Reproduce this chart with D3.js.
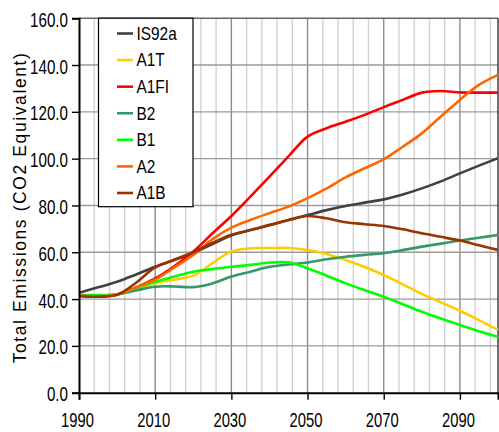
<!DOCTYPE html>
<html>
<head>
<meta charset="utf-8">
<script src="https://cdn.jsdelivr.net/npm/d3@7"></script>
<style>
  html, body { margin: 0; padding: 0; background: #fff; }
  svg { display: block; font-family: "Liberation Sans", Arial, sans-serif; }
</style>
</head>
<body>
<svg id="chart" width="499" height="432"></svg>
<script>
// Scenario years (5-year steps)
const years = [1990,1995,2000,2005,2010,2015,2020,2025,2030,2035,2040,2045,2050,2055,2060,2065,2070,2075,2080,2085,2090,2095,2100];

// Total emissions per scenario (CO2 equivalent)
const IS92a = [42.7,45.0,47.4,50.5,53.8,56.7,59.6,63.5,67.2,69.5,71.5,73.8,75.9,78.0,79.8,81.2,82.6,84.7,87.3,90.3,93.7,97.0,100.2];
const A1T   = [41.5,41.2,42.0,44.2,46.8,48.3,50.0,55.3,60.3,61.7,61.8,61.8,61.0,59.3,56.7,53.7,50.3,46.3,42.2,38.6,35.0,31.0,26.8];
const A1FI  = [41.5,41.2,42.0,45.0,48.8,54.0,60.3,68.0,75.5,83.8,92.3,101.0,109.4,113.0,115.8,118.7,122.0,125.1,128.2,128.9,128.3,128.2,128.2];
const B2    = [41.5,41.3,42.0,43.7,45.3,45.4,45.1,46.7,49.6,51.7,53.8,54.8,55.6,57.0,58.1,58.9,59.6,60.9,62.4,63.7,65.0,66.2,67.4];
const B1    = [41.8,41.7,42.0,44.8,47.4,49.6,51.7,52.8,53.8,54.6,55.6,55.7,53.2,50.0,46.7,43.8,41.0,37.8,34.6,31.7,28.9,26.3,23.9];
const A2    = [41.5,41.2,42.0,45.0,48.3,53.5,58.8,65.5,70.5,73.8,76.7,79.5,83.1,87.3,92.0,95.9,99.7,105.1,110.8,118.0,125.1,131.5,135.8];
const A1B   = [41.2,41.0,41.8,47.0,53.5,56.8,60.0,64.0,67.5,69.5,71.7,73.8,75.5,74.5,72.8,72.0,71.2,69.8,68.1,66.6,65.0,63.0,61.0];

const seriesNames  = ["IS92a","A1T","A1FI","B2","B1","A2","A1B"];
const seriesValues = [IS92a, A1T, A1FI, B2, B1, A2, A1B];
const seriesColors = ["#404040","#FFCC00","#FF0000","#339966","#00FF00","#FF6600","#993300"];

// Axis ticks
const xTickYears = [1990,2010,2030,2050,2070,2090];
const yTickValues = [0,20,40,60,80,100,120,140,160];

const svg = d3.select("#chart");
const plotLeft = 79, plotRight = 498, plotTop = 18.2, plotBottom = 392.7;

const x = d3.scaleLinear().domain([1990, 2100]).range([plotLeft, plotRight]);
const y = d3.scaleLinear().domain([0, 160]).range([plotBottom, plotTop]);

// Vertical grid every 4 years, darker at labelled decades
const minorYears = d3.range(1994, 2100, 4);
svg.append("g").selectAll("line").data(minorYears).join("line")
  .attr("x1", d => x(d)).attr("x2", d => x(d))
  .attr("y1", plotTop).attr("y2", plotBottom)
  .attr("stroke", d => xTickYears.includes(d) ? "#8c8c8c" : "#d2d2d2")
  .attr("stroke-width", 1.4);

// Horizontal grid
svg.append("g").selectAll("line").data(yTickValues.filter(v => v > 0 && v < 160)).join("line")
  .attr("x1", plotLeft).attr("x2", plotRight)
  .attr("y1", d => y(d)).attr("y2", d => y(d))
  .attr("stroke", "#9a9a9a").attr("stroke-width", 1.4);

// Plot frame (top and right)
svg.append("line").attr("x1", plotLeft).attr("x2", plotRight).attr("y1", plotTop).attr("y2", plotTop)
  .attr("stroke", "#666").attr("stroke-width", 1.4);
svg.append("line").attr("x1", plotRight).attr("x2", plotRight).attr("y1", plotTop).attr("y2", plotBottom)
  .attr("stroke", "#333").attr("stroke-width", 1.4);

// Series lines
const line = d3.line()
  .x((d, i) => x(years[i]))
  .y(d => y(d))
  .curve(d3.curveCatmullRom.alpha(0.5));

const plot = svg.append("g");
plot.append("clipPath").attr("id", "clip").append("rect")
  .attr("x", plotLeft).attr("y", plotTop - 2).attr("width", plotRight - plotLeft).attr("height", plotBottom - plotTop + 2);
plot.attr("clip-path", "url(#clip)");
seriesValues.forEach((vals, k) => {
  plot.append("path")
    .attr("d", line(vals))
    .attr("fill", "none")
    .attr("stroke", seriesColors[k])
    .attr("stroke-width", 2.6)
    .attr("stroke-linejoin", "round");
});

// Axes
const xAxis = d3.axisBottom(x).tickValues(xTickYears).tickSize(7).tickFormat(d3.format("d"));
const gx = svg.append("g").attr("transform", `translate(0,${plotBottom})`).call(xAxis);
gx.select(".domain").attr("stroke", "#000").attr("stroke-width", 2);
gx.selectAll(".tick line").attr("stroke", "#000").attr("stroke-width", 1.4);
gx.selectAll(".tick text").remove();
gx.selectAll(".tick").append("text")
  .attr("transform", "translate(-2,34.6) scale(0.74,1)")
  .attr("text-anchor", "middle")
  .attr("fill", "#000")
  .attr("font-size", 20)
  .text(d => d3.format("d")(d));

const yAxis = d3.axisLeft(y).tickValues(yTickValues).tickSize(7);
const gy = svg.append("g").attr("transform", `translate(${plotLeft},0)`).call(yAxis);
gy.select(".domain").attr("stroke", "#000").attr("stroke-width", 2);
gy.selectAll(".tick line").attr("stroke", "#000").attr("stroke-width", 1.4);
gy.selectAll(".tick text").remove();
gy.selectAll(".tick").append("text")
  .attr("transform", "translate(-11,8) scale(0.74,1)")
  .attr("text-anchor", "end")
  .attr("fill", "#000")
  .attr("font-size", 20.5)
  .text(d => d3.format(".1f")(d));

// Y axis title
svg.append("text")
  .attr("transform", `translate(26,${(plotTop + plotBottom) / 2 + 2}) rotate(-90)`)
  .attr("text-anchor", "middle")
  .attr("font-size", 17.5)
  .attr("letter-spacing", 1.6)
  .attr("fill", "#000")
  .text("Total Emissions (CO2 Equivalent)");

// Legend
const legend = svg.append("g");
legend.append("rect")
  .attr("x", 98.5).attr("y", plotTop).attr("width", 94.5).attr("height", 188.5)
  .attr("fill", "#fff").attr("stroke", "#000").attr("stroke-width", 1.2);
const rowY = d3.scaleLinear().domain([0, 6]).range([33.5, 193]);
seriesNames.forEach((name, k) => {
  const yy = rowY(k);
  legend.append("line")
    .attr("x1", 117).attr("x2", 133).attr("y1", yy).attr("y2", yy)
    .attr("stroke", seriesColors[k]).attr("stroke-width", 2.6);
  legend.append("text")
    .attr("transform", `translate(136.5,${yy + 6.3}) scale(0.88,1)`)
    .attr("font-size", 17.5)
    .attr("fill", "#000")
    .text(name);
});
</script>
</body>
</html>
